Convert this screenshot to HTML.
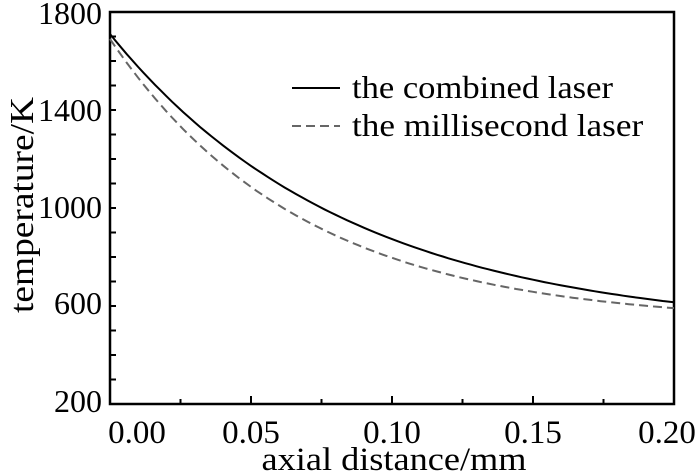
<!DOCTYPE html><html><head><style>body{margin:0;background:#fff}svg{display:block}text{font-family:"Liberation Serif",serif;fill:#000}</style></head><body>
<svg id="s" width="700" height="474" xmlns="http://www.w3.org/2000/svg">
<rect x="110" y="12" width="564" height="392" fill="none" stroke="#000" stroke-width="2.5"/>
<g id="ticks" stroke="#000" stroke-width="2"></g>
<g font-size="32" text-anchor="end">
<text x="102" y="24">1800</text><text x="102" y="121">1400</text><text x="102" y="218">1000</text><text x="102" y="314">600</text><text x="102" y="412">200</text></g>
<g font-size="33" text-anchor="middle">
<text x="137" y="443">0.00</text><text x="251" y="443">0.05</text><text x="392" y="443">0.10</text><text x="533" y="443">0.15</text><text x="667" y="443">0.20</text></g>
<text transform="translate(394,470) scale(1.1,1)" font-size="33" text-anchor="middle">axial distance/mm</text>
<text transform="translate(33,205) rotate(-90) scale(1.1,1)" font-size="34" text-anchor="middle">temperature/K</text>
<path id="p1" fill="none" stroke="#000" stroke-width="2"/>
<path id="p2" fill="none" stroke="#666" stroke-width="2" stroke-dasharray="9,5"/>
<line x1="292" y1="88" x2="340" y2="88" stroke="#000" stroke-width="2"/>
<line x1="292" y1="126" x2="340" y2="126" stroke="#666" stroke-width="2" stroke-dasharray="9,5"/>
<text transform="translate(352,98) scale(1.08,1)" font-size="32">the combined laser</text>
<text transform="translate(352,136) scale(1.1,1)" font-size="32">the millisecond laser</text>
</svg>
<script>
function X(v){return 110+v/0.2*564}function Y(t){return 12+(1800-t)*0.245}
function mk(b,a,k){var d="";for(var i=0;i<=100;i++){var x=0.2*i/100;d+=(i?"L":"M")+X(x).toFixed(1)+","+Y(b+a*Math.exp(-x/k)).toFixed(1);}return d}
document.getElementById("p1").setAttribute("d",mk(500,1210,0.085));
document.getElementById("p2").setAttribute("d",mk(530,1160,0.068));
var g=document.getElementById("ticks"),h="";
for(var i=1;i<8;i++){var x=110+i*70.5;var l=i%2?5:8;h+='<line x1="'+x+'" y1="404" x2="'+x+'" y2="'+(404-l)+'"/>';}
for(var j=1;j<16;j++){var y=404-j*24.5;var l=6;h+='<line x1="110" y1="'+y+'" x2="'+(110+l)+'" y2="'+y+'"/>';}
g.innerHTML=h;
</script>
</body></html>
